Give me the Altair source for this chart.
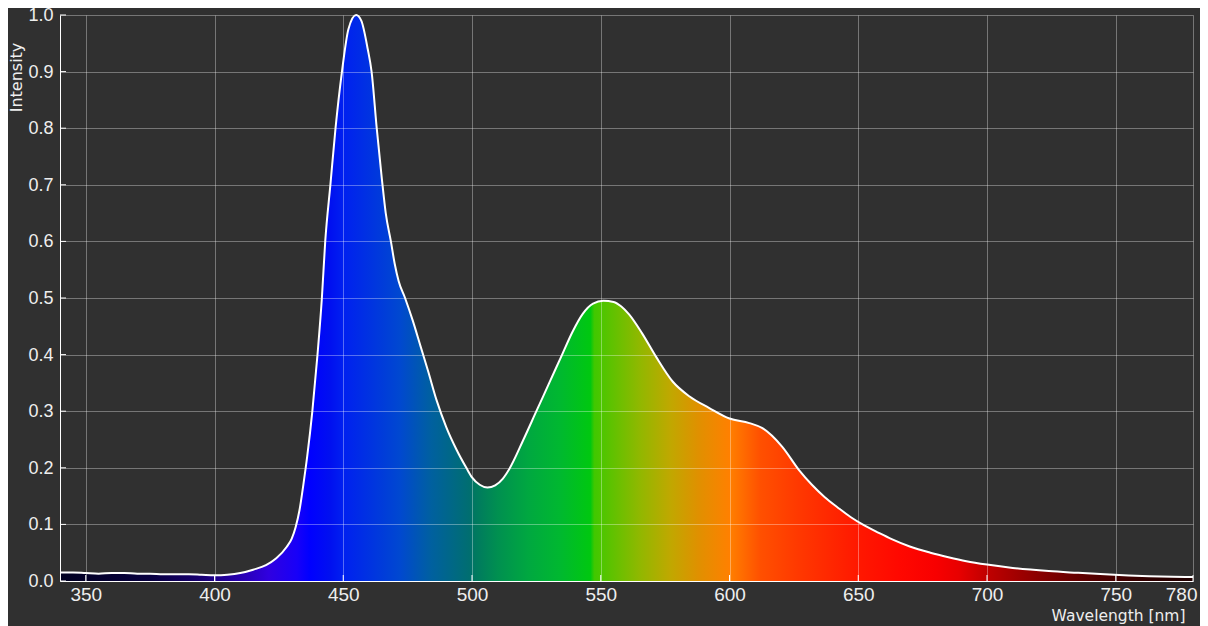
import altair as alt
import pandas as pd

# ---- data ----
wavelength_nm = [340, 345, 350, 355, 360, 365, 370, 375, 380, 385, 390, 395, 400, 405, 410,
                 415, 420, 424, 428, 430, 431.5, 433, 434.5, 436, 438, 440, 441.7, 443, 445,
                 447, 449.5, 452, 455, 457, 459.5, 461, 463, 465, 466.5, 468.5, 470, 471.5,
                 474, 477, 480, 483, 486.2, 490, 494, 497.8, 500, 503, 506, 509, 512, 514.5,
                 520, 525, 530, 535, 539, 543, 547, 551, 555, 558, 561, 566, 571.5, 578,
                 584.5, 592, 600, 607.7, 612.8, 620.5, 627, 632, 637, 642, 647, 652, 658,
                 663, 670, 678, 685, 692, 700, 710, 724, 735, 744, 755, 763, 772, 780]
intensity = [0.015, 0.015, 0.014, 0.013, 0.014, 0.014, 0.013, 0.013, 0.012, 0.012, 0.012,
             0.011, 0.010, 0.011, 0.014, 0.020, 0.028, 0.040, 0.060, 0.075, 0.095, 0.125,
             0.170, 0.220, 0.300, 0.400, 0.500, 0.600, 0.700, 0.800, 0.900, 0.975, 1.000,
             0.990, 0.940, 0.900, 0.800, 0.710, 0.650, 0.600, 0.560, 0.530, 0.500, 0.460,
             0.415, 0.370, 0.320, 0.272, 0.232, 0.200, 0.183, 0.170, 0.165, 0.169, 0.181,
             0.198, 0.250, 0.300, 0.350, 0.400, 0.440, 0.472, 0.490, 0.495, 0.493, 0.485,
             0.471, 0.438, 0.396, 0.352, 0.326, 0.306, 0.287, 0.279, 0.270, 0.237, 0.196,
             0.170, 0.148, 0.130, 0.113, 0.099, 0.085, 0.074, 0.061, 0.050, 0.042, 0.035,
             0.029, 0.023, 0.0175, 0.0145, 0.0122, 0.0098, 0.0085, 0.0075, 0.007]

# spectrum colours along the wavelength axis
spectrum_nm = [340, 375, 394, 410, 421, 432, 437, 445, 450, 472, 484, 499, 501, 510, 522,
               534, 546, 547.5, 565, 577, 588, 600, 612, 627, 650, 666, 680, 689, 700, 724,
               744, 763, 780]
spectrum_colors = ["#000020", "#080040", "#180070", "#2800b0", "#3000e0", "#1800f8",
                   "#0000ff", "#0010f0", "#0020f0", "#0048d0", "#0060a0", "#006e70",
                   "#007860", "#009050", "#00a840", "#00b830", "#00c810", "#40c800",
                   "#90b800", "#c0a800", "#e09000", "#ff8000", "#ff5000", "#ff3800",
                   "#ff1800", "#ff0800", "#f80000", "#e80000", "#c00000", "#800000",
                   "#500000", "#300000", "#200000"]

x_ticks = [350, 400, 450, 500, 550, 600, 650, 700, 750, 780]
y_ticks = [0.0, 0.1, 0.2, 0.3, 0.4, 0.5, 0.6, 0.7, 0.8, 0.9, 1.0]

X_MIN, X_MAX = 340, 780
W, H = 1133, 566

df = pd.DataFrame({"nm": wavelength_nm, "intensity": intensity})
xt = pd.DataFrame({"nm": x_ticks})
yt = pd.DataFrame({"intensity": y_ticks})

stops = [alt.GradientStop(color=c, offset=(n - X_MIN) / (X_MAX - X_MIN))
         for n, c in zip(spectrum_nm, spectrum_colors)]
grad = alt.LinearGradient(gradient="linear", stops=stops, x1=0, x2=1, y1=0, y2=0)

xscale = alt.Scale(domain=[X_MIN, X_MAX], nice=False, zero=False)
yscale = alt.Scale(domain=[0, 1], nice=False, zero=False)

label_color = "#eeeeee"

x_axis = alt.Axis(values=x_ticks, format="d", grid=True, gridColor="white", gridOpacity=0.34,
                  ticks=False, tickSize=0, domain=True, domainColor="white", domainWidth=1,
                  labelColor=label_color, labelFont="Liberation Sans", labelFontSize=19,
                  labelPadding=4, labelFlush=True, labelFlushOffset=4,
                  title="Wavelength [nm]", titleColor=label_color, titleFont="DejaVu Sans",
                  titleFontSize=15.5, titleFontWeight="normal", titleAlign="right",
                  titleBaseline="alphabetic", titleX=1125, titleY=39, zindex=1)
y_axis = alt.Axis(values=y_ticks, format=".1f", grid=True, gridColor="white", gridOpacity=0.34,
                  ticks=False, tickSize=0, domain=True, domainColor="white", domainWidth=1,
                  labelColor=label_color, labelFont="Liberation Sans", labelFontSize=18,
                  labelPadding=7, labelBaseline="middle", labelOffset=0.5,
                  title="Intensity", titleColor=label_color, titleFont="DejaVu Sans",
                  titleFontSize=16, titleFontWeight="normal", titleAngle=270,
                  titleAlign="center", titleBaseline="alphabetic", titleX=-39, titleY=62,
                  zindex=1)

X = alt.X("nm:Q", scale=xscale, axis=x_axis)
Y = alt.Y("intensity:Q", scale=yscale, axis=y_axis)

area = alt.Chart(df).mark_area(color=grad, interpolate="monotone").encode(x=X, y=Y)
line = alt.Chart(df).mark_line(color="white", strokeWidth=2, interpolate="monotone").encode(x=X, y=Y)
xtick_marks = alt.Chart(xt).mark_rule(color="white", strokeWidth=1).encode(
    x=X,
    y=alt.value(H),
    y2=alt.value(H - 6),
)
ytick_marks = alt.Chart(yt).mark_rule(color="white", strokeWidth=1).encode(
    y=Y,
    x=alt.value(0),
    x2=alt.value(6),
)

chart = alt.layer(area, line, xtick_marks, ytick_marks).properties(
    width=W, height=H,
    background="#303030",
    autosize=alt.AutoSizeParams(type="none"),
    padding={"left": 52, "top": 7, "right": 7, "bottom": 45},
).configure_view(strokeWidth=0)

chart.save("out.html", embed_options={"renderer": "svg", "actions": False})
